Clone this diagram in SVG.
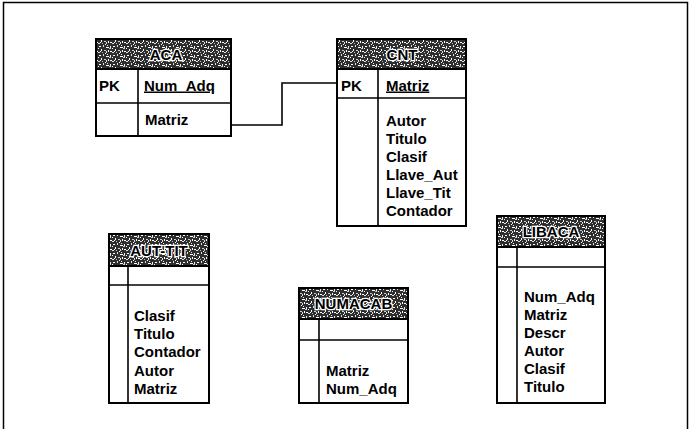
<svg xmlns="http://www.w3.org/2000/svg" width="690" height="429" viewBox="0 0 690 429">
<defs>
<pattern id="noise" width="14" height="9" patternUnits="userSpaceOnUse">
<rect width="14" height="9" fill="#2e2e2e"/>
<rect x="1" y="1" width="2" height="1" fill="#fff"/>
<rect x="5" y="0" width="1" height="2" fill="#ddd"/>
<rect x="8" y="2" width="3" height="1" fill="#fff"/>
<rect x="12" y="1" width="1" height="2" fill="#eee"/>
<rect x="3" y="4" width="1" height="2" fill="#fff"/>
<rect x="6" y="5" width="2" height="1" fill="#ccc"/>
<rect x="10" y="5" width="1" height="2" fill="#fff"/>
<rect x="0" y="7" width="2" height="1" fill="#ddd"/>
<rect x="12" y="6" width="2" height="1" fill="#fff"/>
<rect x="7" y="8" width="1" height="1" fill="#fff"/>
<rect x="4" y="7" width="1" height="1" fill="#bbb"/>
<rect x="0" y="3" width="1" height="1" fill="#fff"/>
<rect x="9" y="0" width="1" height="1" fill="#eee"/>
<rect x="11" y="3" width="2" height="1" fill="#ccc"/>
<rect x="2" y="6" width="1" height="1" fill="#fff"/>
<rect x="8" y="6" width="1" height="2" fill="#ddd"/>
</pattern>
</defs>
<style>
.frame{fill:none;stroke:#000;stroke-width:1.5}
.box{fill:#fff;stroke:#000;stroke-width:2}
.hdr{fill:url(#noise);stroke:#000;stroke-width:2}
.ln{stroke:#000;stroke-width:1.6;fill:none}
.conn{stroke:#000;stroke-width:1.6;fill:none}
text{font-family:"Liberation Sans",Arial,sans-serif;font-weight:bold;font-size:15px;fill:#000}
.ht{text-anchor:middle;stroke:#fff;stroke-width:2.5;paint-order:stroke;font-size:15px}
.u{text-decoration:underline}
</style>
<rect class="frame" x="3.5" y="2.5" width="684" height="440"/>

<g id="connectors">
<polyline class="conn" points="231,125 282,125 282,83 337,83"/>
</g>

<g id="ACA">
<rect class="box" x="96" y="39" width="135" height="97"/>
<rect class="hdr" x="96" y="39" width="135" height="30"/>
<line class="ln" x1="96" y1="103" x2="231" y2="103"/>
<line class="ln" x1="138" y1="69" x2="138" y2="136"/>
<text class="ht" x="166" y="60">ACA</text>
<text x="99" y="90.5">PK</text>
<text class="u" x="144" y="90.5">Num_Adq</text>
<text x="145" y="125">Matriz</text>
</g>

<g id="CNT">
<rect class="box" x="337" y="39" width="129" height="187"/>
<rect class="hdr" x="337" y="39" width="129" height="30"/>
<line class="ln" x1="337" y1="98" x2="466" y2="98"/>
<line class="ln" x1="378" y1="69" x2="378" y2="226"/>
<text class="ht" x="402" y="60">CNT</text>
<text x="341" y="90.5">PK</text>
<text class="u" x="386" y="90.5">Matriz</text>
<text x="386" y="125.5">Autor</text>
<text x="386" y="143.5">Titulo</text>
<text x="386" y="161.5">Clasif</text>
<text x="386" y="179.5">Llave_Aut</text>
<text x="386" y="198">Llave_Tit</text>
<text x="386" y="216">Contador</text>
</g>

<g id="AUT-TIT">
<rect class="box" x="109" y="234" width="100" height="169"/>
<rect class="hdr" x="109" y="234" width="100" height="32"/>
<line class="ln" x1="109" y1="285" x2="209" y2="285"/>
<line class="ln" x1="128" y1="266" x2="128" y2="403"/>
<text class="ht" x="159" y="256">AUT-TIT</text>
<text x="134" y="320.5">Clasif</text>
<text x="134" y="339">Titulo</text>
<text x="134" y="357">Contador</text>
<text x="134" y="375.5">Autor</text>
<text x="134" y="393.5">Matriz</text>
</g>

<g id="NUMACAB">
<rect class="box" x="299" y="288" width="109" height="115"/>
<rect class="hdr" x="299" y="288" width="109" height="31"/>
<line class="ln" x1="299" y1="340" x2="408" y2="340"/>
<line class="ln" x1="319" y1="319" x2="319" y2="403"/>
<text class="ht" x="353.5" y="309">NUMACAB</text>
<text x="326" y="375.5">Matriz</text>
<text x="326" y="393.5">Num_Adq</text>
</g>

<g id="LIBACA">
<rect class="box" x="497" y="216" width="108" height="187"/>
<rect class="hdr" x="497" y="216" width="108" height="31"/>
<line class="ln" x1="497" y1="267" x2="605" y2="267"/>
<line class="ln" x1="517" y1="247" x2="517" y2="403"/>
<text class="ht" x="551" y="237">LIBACA</text>
<text x="524" y="301.5">Num_Adq</text>
<text x="524" y="319.5">Matriz</text>
<text x="524" y="338">Descr</text>
<text x="524" y="356">Autor</text>
<text x="524" y="374">Clasif</text>
<text x="524" y="392">Titulo</text>
</g>
</svg>
